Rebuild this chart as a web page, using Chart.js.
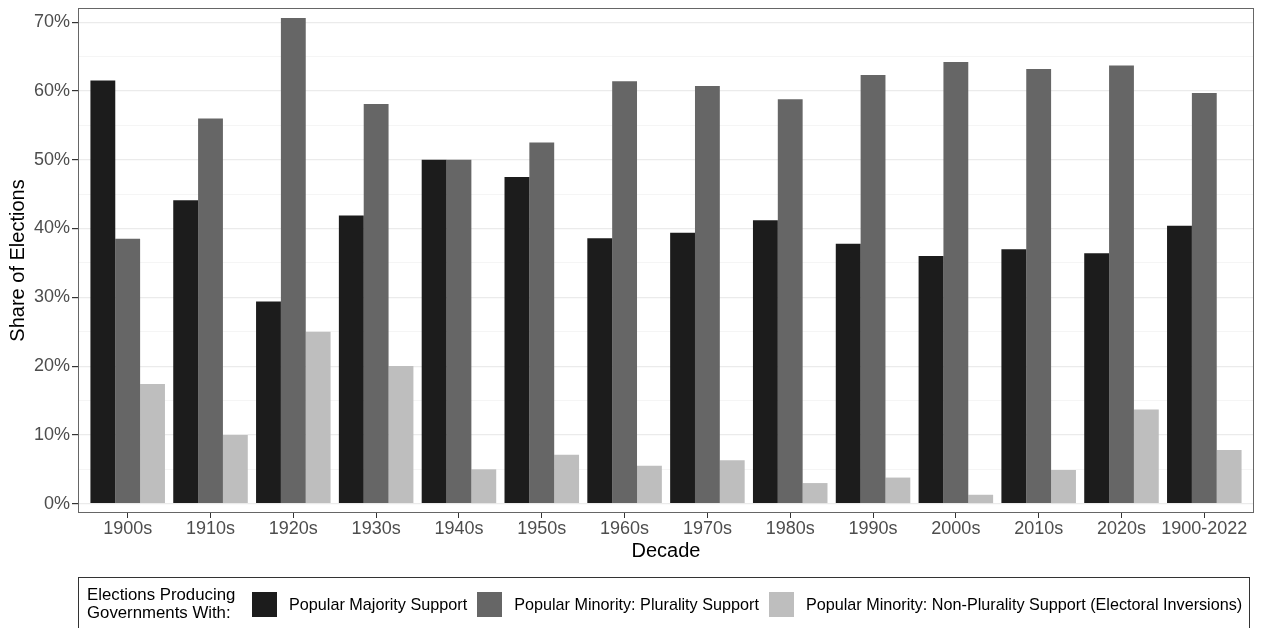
<!DOCTYPE html>
<html>
<head>
<meta charset="utf-8">
<script src="https://cdn.jsdelivr.net/npm/chart.js@4/dist/chart.umd.min.js"></script>
<style>
  html, body { margin: 0; padding: 0; background: #fff; overflow: hidden; }
  #wrap { position: relative; width: 1262px; height: 628px; }
  #legend {
    position: absolute; left: 78px; top: 577px; width: 1172px; height: 54px;
    border: 1px solid #333; box-sizing: border-box;
    display: flex; align-items: center; padding-left: 8px;
    font-family: 'Liberation Sans', Arial, sans-serif; color: #000;
  }
  #legend .title { font-size: 16.8px; line-height: 18px; width: 165px; flex: none; white-space: nowrap; }
  #legend .key { width: 25px; height: 25px; flex: none; }
  #legend .lab { font-size: 16.2px; margin-left: 12px; margin-right: 10px; flex: none; white-space: nowrap; }
</style>
</head>
<body>
<div id="wrap">
  <canvas id="electionsChart" width="1262" height="628"></canvas>
  <div id="legend"></div>
</div>
<script>
const decades = ['1900s', '1910s', '1920s', '1930s', '1940s', '1950s', '1960s', '1970s', '1980s', '1990s', '2000s', '2010s', '2020s', '1900-2022']
const majority_support = [61.5, 44.1, 29.4, 41.9, 50.0, 47.5, 38.6, 39.4, 41.2, 37.8, 36.0, 37.0, 36.4, 40.4]
const plurality_support = [38.5, 56.0, 70.6, 58.1, 50.0, 52.5, 61.4, 60.7, 58.8, 62.3, 64.2, 63.2, 63.7, 59.7]
const inversions = [17.4, 10.0, 25.0, 20.0, 5.0, 7.1, 5.5, 6.3, 3.0, 3.8, 1.3, 4.9, 13.7, 7.8]
const y_ticks = [0, 5, 10, 15, 20, 25, 30, 35, 40, 45, 50, 55, 60, 65, 70]

const series = [
  {label: 'Popular Majority Support', values: majority_support, color: '#1c1c1c'},
  {label: 'Popular Minority: Plurality Support', values: plurality_support, color: '#666666'},
  {label: 'Popular Minority: Non-Plurality Support (Electoral Inversions)', values: inversions, color: '#bebebe'},
]

Chart.defaults.font.family = "'Liberation Sans', Arial, sans-serif"

datasets = []
series.forEach(function(s){
  datasets.push({
    label: s.label,
    data: s.values.map(function(v, i){ return {x: i, y: v} }),
    backgroundColor: s.color,
    borderWidth: 0,
    categoryPercentage: 0.9,
    barPercentage: 1.0,
  })
});

// panel border like theme_bw
const panelBorder = {
  id: 'panelBorder',
  afterDraw: function(chart) {
    const a = chart.chartArea
    const ctx = chart.ctx
    ctx.save()
    ctx.strokeStyle = '#666666'
    ctx.lineWidth = 1
    ctx.strokeRect(a.left + 0.5, a.top + 0.5, a.right - a.left - 1, a.bottom - a.top - 1)
    ctx.restore()
  }
}

const electionsCanvas = document.getElementById('electionsChart');
new Chart(
  electionsCanvas,
  {
    type: 'bar',
    data: { datasets: datasets },
    plugins: [panelBorder],
    options: {
      responsive: false,
      animation: false,
      layout: { padding: { left: 0, top: 8, right: 8, bottom: 55 } },
      plugins: {
        legend: { display: false },
        tooltip: { enabled: false },
      },
      scales: {
        x: {
          type: 'linear',
          min: -0.6,
          max: decades.length - 0.4,
          offset: false,
          afterBuildTicks: function(scale) {
            scale.ticks = decades.map(function(d, i){ return {value: i} })
          },
          afterFit: function(scale) {
            scale.height = 60
            scale.paddingLeft = 0
            scale.paddingRight = 0
          },
          ticks: {
            autoSkip: false, maxRotation: 0, padding: 0,
            color: '#4d4d4d', font: { size: 18 },
            callback: function(v) { return decades[v] }
          },
          grid: { offset: false, drawOnChartArea: false, tickLength: 5, tickColor: '#333333' },
          border: { display: false },
          title: { display: true, text: 'Decade', color: '#000', font: { size: 20 }, padding: { top: 0, bottom: 10 } },
        },
        y: {
          min: -1.35,
          max: 72.05,
          afterBuildTicks: function(scale) {
            scale.ticks = y_ticks.map(function(v){ return {value: v} })
          },
          afterFit: function(scale) {
            scale.width = 78
            scale.paddingTop = 0
            scale.paddingBottom = 0
          },
          ticks: {
            padding: 2, color: '#4d4d4d', font: { size: 18 },
            callback: function(v) { return v % 10 === 0 ? v + '%' : '' }
          },
          grid: {
            tickLength: 6,
            color: function(c) { return c.tick && c.tick.value % 10 === 0 ? '#ebebeb' : '#f3f3f3' },
            lineWidth: function(c) { return c.tick && c.tick.value % 10 === 0 ? 1.2 : 0.8 },
            tickColor: function(c) { return c.tick && c.tick.value % 10 === 0 ? '#333333' : 'rgba(0,0,0,0)' },
          },
          border: { display: false },
          title: { display: true, text: 'Share of Elections', color: '#000', font: { size: 20 }, padding: { top: 6, bottom: 0 } },
        }
      }
    },
  }
);

// legend drawn as html, ggplot style with title at the left
const legendBox = document.getElementById('legend')
let html = '<div class="title">Elections Producing<br>Governments With:</div>'
series.forEach(function(s){
  html += '<div class="key" style="background:' + s.color + '"></div><div class="lab">' + s.label + '</div>'
});
legendBox.innerHTML = html
</script>
</body>
</html>
